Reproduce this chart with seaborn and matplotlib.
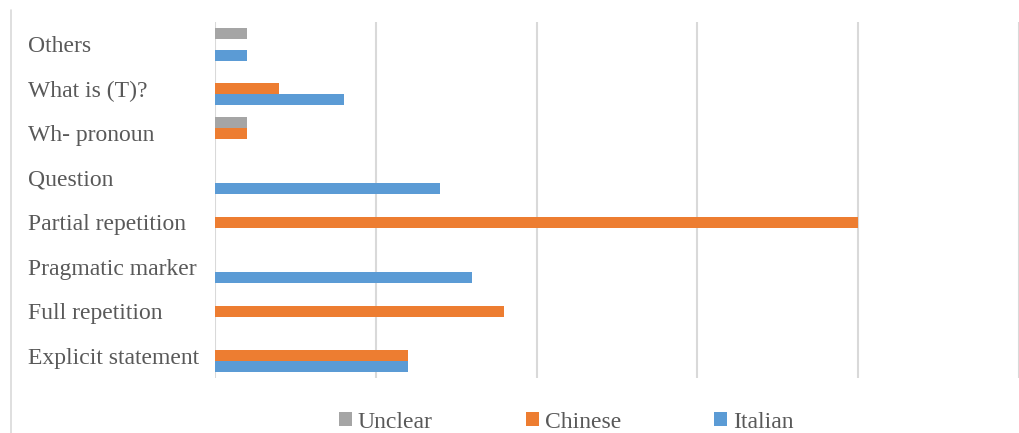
import matplotlib
matplotlib.use("Agg")
import matplotlib.pyplot as plt
import seaborn as sns
import pandas as pd
from matplotlib.lines import Line2D

categories = ["Others", "What is (T)?", "Wh- pronoun", "Question",
              "Partial repetition", "Pragmatic marker", "Full repetition",
              "Explicit statement"]
series = ["Unclear", "Chinese", "Italian"]
unclear = [1, 0, 1, 0, 0, 0, 0, 0]
chinese = [0, 2, 1, 0, 20, 0, 9, 6]
italian = [1, 4, 0, 7, 0, 8, 0, 6]
colors = {"Unclear": "#A5A5A5", "Chinese": "#ED7D31", "Italian": "#5B9BD5"}

rows = []
for name, vals in zip(series, [unclear, chinese, italian]):
    for cat, v in zip(categories, vals):
        rows.append({"category": cat, "series": name, "value": v})
df = pd.DataFrame(rows)

sns.set_style("white")
plt.rcParams["font.family"] = ["Liberation Serif", "DejaVu Serif"]

fig = plt.figure(figsize=(10.19, 4.33), dpi=100)
ax = fig.add_axes([215 / 1019, 1 - 378 / 433, (1019 - 215) / 1019, (378 - 22) / 433])

sns.barplot(data=df, x="value", y="category", hue="series", order=categories,
            hue_order=series, palette=colors, orient="h", width=0.75,
            linewidth=0, saturation=1, ax=ax, legend=True)

ax.set_xlim(0, 25)
ax.set_ylim(len(categories) - 0.5, -0.5)
ax.set_xticks([0, 5, 10, 15, 20, 25])
ax.set_xticklabels([])
ax.grid(axis="x", color="#D9D9D9", linewidth=1.5)
ax.grid(axis="y", visible=False)
ax.set_axisbelow(True)
for s in ax.spines.values():
    s.set_visible(False)
ax.set_xlabel("")
ax.set_ylabel("")
ax.tick_params(axis="both", length=0)
ax.tick_params(axis="y", pad=(215 - 28) * 72 / 100, labelsize=17, labelcolor="#595959")
for lab in ax.get_yticklabels():
    lab.set_horizontalalignment("left")

handles, labels = ax.get_legend_handles_labels()
ax.get_legend().remove()
fig.legend(handles, labels, loc="center", bbox_to_anchor=(566 / 1019, 1 - 422 / 433),
           ncol=3, frameon=False, fontsize=17, labelcolor="#595959",
           handlelength=0.55, handleheight=0.55, handletextpad=0.25,
           columnspacing=3.95)

# outer chart border on the left edge
fig.add_artist(Line2D([11 / 1019, 11 / 1019], [0, 1 - 10 / 433],
                      transform=fig.transFigure, color="#D9D9D9", linewidth=1.2))

fig.savefig("out.png", dpi=100)
